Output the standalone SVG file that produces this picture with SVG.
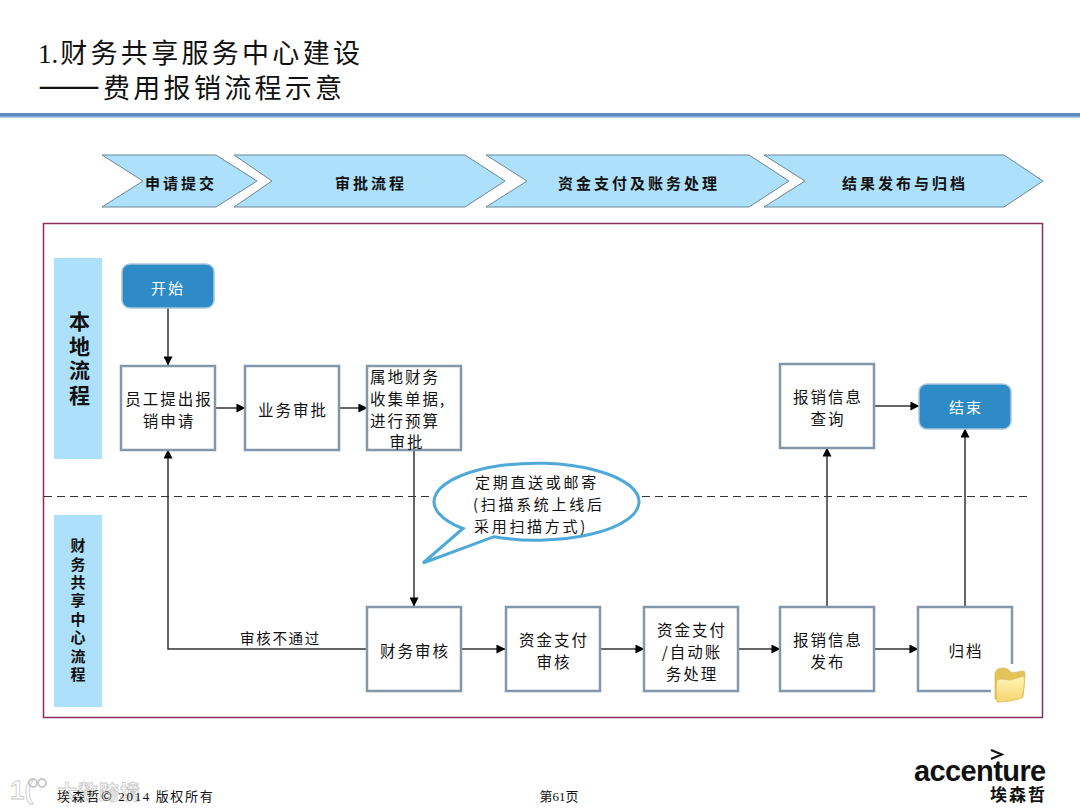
<svg xmlns="http://www.w3.org/2000/svg" width="1080" height="810" viewBox="0 0 1080 810">
<defs>
<marker id="arrow" viewBox="0 0 10 10" refX="9.5" refY="5" markerWidth="9" markerHeight="9" markerUnits="userSpaceOnUse" orient="auto"><path d="M0,0L10,5L0,10Z" fill="#000"/></marker>
<linearGradient id="rule" x1="0" y1="0" x2="0" y2="1"><stop offset="0" stop-color="#5f8cc4"/><stop offset="0.6" stop-color="#5f8cc4"/><stop offset="1" stop-color="#e4e7ec"/></linearGradient>
<linearGradient id="folder" x1="0" y1="0" x2="0" y2="1"><stop offset="0" stop-color="#fff5bb"/><stop offset="1" stop-color="#f5d56c"/></linearGradient>
</defs>
<style>
text{font-family:"Noto Sans CJK SC","Liberation Sans",sans-serif;fill:#111}
.t{font-size:15.5px;text-anchor:middle;letter-spacing:2px}
.l{font-size:15.500px;letter-spacing:2px}
.o{font-size:15px;letter-spacing:2.700px}
.h{font-size:15px;text-anchor:middle;font-weight:700;letter-spacing:3px}
.v1{font-size:21px;font-weight:700;writing-mode:vertical-rl;letter-spacing:3.500px}
.v2{font-size:15px;font-weight:700;writing-mode:vertical-rl;letter-spacing:3.400px}
.ti{font-size:27px;letter-spacing:3.300px}
.box{fill:#fff;stroke:#8496a9;stroke-width:2.5}
.chev{fill:#ade0fb;stroke:#6c8592;stroke-width:1}
.lane{fill:#ade0fb}
.term{fill:#2e8bc5;stroke:#a9c6da;stroke-width:1.5}
.c{fill:none;stroke:#333;stroke-width:1.5;marker-end:url(#arrow)}
.wm{fill:#fff;stroke:#c9c9c9;stroke-width:.8}
</style>
<rect width="1080" height="810" fill="#fff"/>
<g id="title">
<text class="ti" x="38" y="63"><tspan font-family="Liberation Serif" letter-spacing="0">1.</tspan><tspan dx="2">财务共享服务中心建设</tspan></text>
<text class="ti" x="38" y="98"><tspan letter-spacing="0" font-size="37">——</tspan><tspan dx="3">费用报销流程示意</tspan></text>
<rect x="0" y="113" width="1080" height="5" fill="url(#rule)"/>
</g>
<g id="phase1"><path class="chev" d="M102,155H216L257,181L216,207H102L143,181Z"/><text class="h" x="181" y="189">申请提交</text></g>
<g id="phase2"><path class="chev" d="M234,155H465L505,181L465,207H234L272,181Z"/><text class="h" x="371" y="189">审批流程</text></g>
<g id="phase3"><path class="chev" d="M486,155H749L789,181L749,207H486L527,181Z"/><text class="h" x="639" y="189">资金支付及账务处理</text></g>
<g id="phase4"><path class="chev" d="M764,155H1004L1043,181L1004,207H764L805,181Z"/><text class="h" x="905" y="189">结果发布与归档</text></g>
<rect id="frame" x="43.500" y="223.500" width="999" height="494" fill="none" stroke="#8a2f5c" stroke-width="1.500"/>
<line id="divider" x1="44" y1="496.500" x2="1028" y2="496.500" stroke="#333" stroke-width="1.200" stroke-dasharray="8 5"/>
<g id="lane-local"><rect class="lane" x="54" y="258" width="48" height="201"/><text class="v1" x="79.500" y="311">本地流程</text></g>
<g id="lane-shared"><rect class="lane" x="54" y="515" width="48" height="192"/><text class="v2" x="78" y="538">财务共享中心流程</text></g>
<g id="connectors">
<path class="c" d="M168,308V365"/>
<path class="c" d="M215,408H245"/>
<path class="c" d="M339,408H367"/>
<path class="c" d="M414,450V606"/>
<path class="c" d="M367,649H168V450"/>
<path class="c" d="M461,649H505"/>
<path class="c" d="M600,649H644"/>
<path class="c" d="M738,649H780"/>
<path class="c" d="M874,649H918"/>
<path class="c" d="M827,606V448"/>
<path class="c" d="M874,406H919"/>
<path class="c" d="M965,606V429"/>
</g>
<text id="reject-label" x="280.500" y="644" style="font-size:14.500px;text-anchor:middle;letter-spacing:1.700px">审核不通过</text>
<g id="start"><rect class="term" x="122" y="264" width="92" height="44" rx="8"/><text class="t" x="168" y="294" style="fill:#fff;font-size:15px">开始</text></g>
<g id="n1"><rect class="box" x="121" y="366" width="94" height="84"/><text class="t" x="169" y="405">员工提出报</text><text class="t" x="169" y="427">销申请</text></g>
<g id="n2"><rect class="box" x="245" y="366" width="94" height="84"/><text class="t" x="293" y="416">业务审批</text></g>
<g id="n3"><rect class="box" x="367" y="366" width="94" height="84"/><text class="l" x="370" y="383">属地财务</text><text class="l" x="370" y="405">收集单据,</text><text class="l" x="370" y="427">进行预算</text><text class="t" x="407" y="448">审批</text></g>
<g id="callout"><path d="M423,563L463,528.500A102.500,38.500 0 1 1 494,536.700Z" fill="#fff" stroke="#4fa9d8" stroke-width="3" stroke-linejoin="miter"/>
<text class="o" x="475" y="488">定期直送或邮寄</text><text class="o" x="473" y="510">(扫描系统上线后</text><text class="o" x="474" y="532">采用扫描方式)</text></g>
<g id="n4"><rect class="box" x="367" y="607" width="94" height="84"/><text class="t" x="415" y="657">财务审核</text></g>
<g id="n5"><rect class="box" x="506" y="607" width="94" height="84"/><text class="t" x="554" y="646">资金支付</text><text class="t" x="554" y="668">审核</text></g>
<g id="n6"><rect class="box" x="644" y="607" width="94" height="84"/><text class="t" x="692" y="636">资金支付</text><text class="t" x="692" y="658">/自动账</text><text class="t" x="692" y="680">务处理</text></g>
<g id="n7"><rect class="box" x="780" y="607" width="94" height="84"/><text class="t" x="828" y="646">报销信息</text><text class="t" x="828" y="668">发布</text></g>
<g id="n8"><rect class="box" x="918" y="607" width="94" height="84"/><text class="t" x="966" y="657">归档</text>
<rect x="991" y="664" width="36" height="40" fill="#fff"/>
<path d="M995,699V674C995,671 998,668 1003,668C1007,668 1010,671 1012,673L1023,671C1025,671 1025,673 1025,675L1023,697Z" fill="#e6c25a" stroke="#d9b95c" stroke-width=".8"/>
<path d="M997,702C996,695 996,686 997,680C1003,678 1006,680 1010,680L1024,676C1025,682 1024,690 1022,698C1014,701 1004,702 997,702Z" fill="url(#folder)" stroke="#dcbc5c" stroke-width=".8"/></g>
<g id="n9"><rect class="box" x="780" y="364" width="94" height="84"/><text class="t" x="828" y="403">报销信息</text><text class="t" x="828" y="425">查询</text></g>
<g id="end"><rect class="term" x="919" y="384" width="92" height="45" rx="8"/><text class="t" x="966" y="413" style="fill:#fff;font-size:15px">结束</text></g>
<g id="footer">
<text class="wm" x="57" y="800" style="font-size:20px;font-weight:700;letter-spacing:1px">大数跨境</text>
<text class="wm" x="10" y="799" style="font-size:26px;font-weight:700;font-family:'Liberation Sans',sans-serif">1(</text>
<circle cx="33" cy="783" r="4" fill="none" stroke="#c9c9c9" stroke-width="2"/><circle cx="42" cy="783" r="4" fill="none" stroke="#c9c9c9" stroke-width="2"/>
<text x="57" y="801" style="font-size:13px;letter-spacing:1.700px">埃森哲© <tspan font-family="Liberation Serif">2014</tspan> 版权所有</text>
<text x="559" y="801" style="font-size:13px;text-anchor:middle">第<tspan font-family="Liberation Serif">61</tspan>页</text>
</g>
<g id="logo">
<path d="M991,750L1002,754.500L991,759" fill="none" stroke="#111" stroke-width="2"/>
<text x="914" y="781" style="font-family:'Liberation Sans',sans-serif;font-size:29px;font-weight:700;letter-spacing:-.600px">accenture</text>
<text x="990" y="801" style="font-size:17px;font-weight:700;letter-spacing:2px">埃森哲</text>
</g>
</svg>
